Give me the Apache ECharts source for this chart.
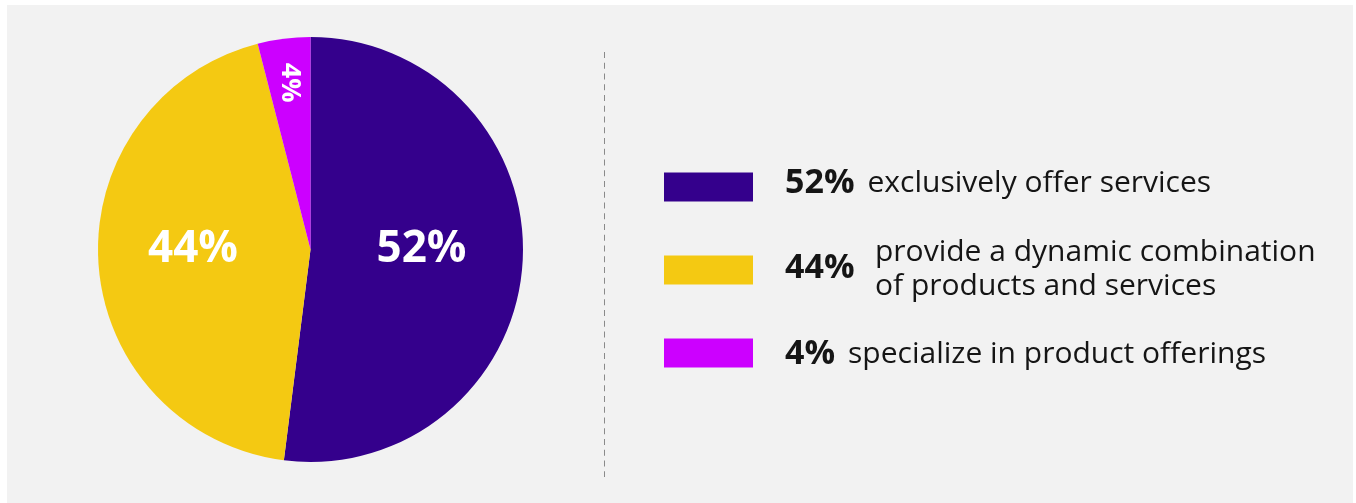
<!DOCTYPE html>
<html>
<head>
<meta charset="utf-8">
<script src="https://cdn.jsdelivr.net/npm/echarts@6/dist/echarts.min.js"></script>
<style>
  html, body { margin: 0; padding: 0; background: #ffffff; }
  #panel { position: absolute; left: 7px; top: 5px; width: 1346px; height: 498px; background: #f2f2f2; }
  #chart { position: absolute; left: 0; top: 0; width: 1356px; height: 503px; }
</style>
</head>
<body>
<div id="panel"></div>
<div id="chart"></div>
<script>
// Share of firms by offering type
const shares = [52, 44, 4];
const descriptionLines = [
  ['exclusively offer services'],
  ['provide a dynamic combination', 'of products and services'],
  ['specialize in product offerings']
];
const sliceColors = ['#34008c', '#f4c912', '#cc00ff'];

const names = descriptionLines.map(lines => lines.join(' '));
const FONT = '"Open Sans"';
const TEXT_COLOR = '#151515';
const CENTER = [310.5, 249.5];
const RADIUS = 212.5;

// legend rows: top of each swatch and a small vertical nudge for its text
const rowTop = [170, 253, 336];
const rowTextShift = [-4, -2, 1];

const pieData = names.map((n, i) => ({ name: n, value: shares[i], itemStyle: { color: sliceColors[i] } }));

// transparent ring that only carries the label of one slice
function labelRing(index, innerR, fontSize, rotate, dy) {
  return {
    type: 'pie',
    silent: true,
    center: CENTER,
    radius: [innerR, RADIUS],
    startAngle: 90,
    clockwise: true,
    z: 5,
    emphasis: { disabled: true },
    labelLine: { show: false },
    labelLayout: { dy: dy },
    data: names.map((n, i) => ({
      name: n,
      value: shares[i],
      itemStyle: { color: 'transparent' },
      label: {
        show: i === index,
        position: 'inside',
        formatter: '{c}%',
        color: '#ffffff',
        fontFamily: FONT,
        fontWeight: 'bold',
        fontSize: fontSize,
        rotate: rotate
      }
    }))
  };
}

const legends = names.map((n, i) => {
  const multi = descriptionLines[i].length > 1;
  const s = rowTextShift[i];
  // extra padding on one side moves the text off the swatch centre;
  // the item grows by 2|s|, so the legend top is raised by |s|
  const padV = s < 0 ? [0, -2 * s] : [2 * s, 0];
  return {
    orient: 'vertical',
    left: 664,
    top: rowTop[i] - Math.abs(s),
    padding: 0,
    itemWidth: 89,
    itemHeight: 29,
    icon: 'rect',
    selectedMode: false,
    data: [{ name: n, itemStyle: { color: sliceColors[i] } }],
    formatter: () => multi
      ? `{b|${shares[i]}%}`
      : `{b|${shares[i]}%}{t|${descriptionLines[i][0]}}`,
    textStyle: {
      rich: {
        b: { fontFamily: FONT, fontWeight: 'bold', fontSize: 34, color: TEXT_COLOR, lineHeight: 29, padding: [padV[0], 0, padV[1], 27] },
        t: { fontFamily: FONT, fontSize: 30, color: TEXT_COLOR, lineHeight: 29, padding: [padV[0], 0, padV[1], 13] }
      }
    }
  };
});

// two-line description next to its bold share
const extraText = [];
descriptionLines.forEach((lines, i) => {
  if (lines.length > 1) {
    extraText.push({
      type: 'text',
      left: 875,
      top: 235,
      style: {
        text: lines.join('\n'),
        fontFamily: FONT,
        fontSize: 30,
        lineHeight: 34,
        fill: TEXT_COLOR
      }
    });
  }
});

const option = {
  backgroundColor: 'transparent',
  animation: false,
  legend: legends,
  graphic: [
    {
      type: 'line',
      shape: { x1: 604.5, y1: 52, x2: 604.5, y2: 477 },
      style: { stroke: '#8a8a8a', lineWidth: 1, lineDash: [6, 4.75] }
    }
  ].concat(extraText),
  series: [
    {
      type: 'pie',
      center: CENTER,
      radius: [0, RADIUS],
      startAngle: 90,
      clockwise: true,
      silent: true,
      emphasis: { disabled: true },
      label: { show: false },
      labelLine: { show: false },
      data: pieData
    },
    labelRing(0, 4, 44, 0, -7),
    labelRing(1, 17, 44, 0, -7),
    labelRing(2, 118, 27, -90, 0)
  ]
};

const chart = echarts.init(document.getElementById('chart'), null, { renderer: 'canvas' });
chart.setOption(option);
</script>
</body>
</html>
